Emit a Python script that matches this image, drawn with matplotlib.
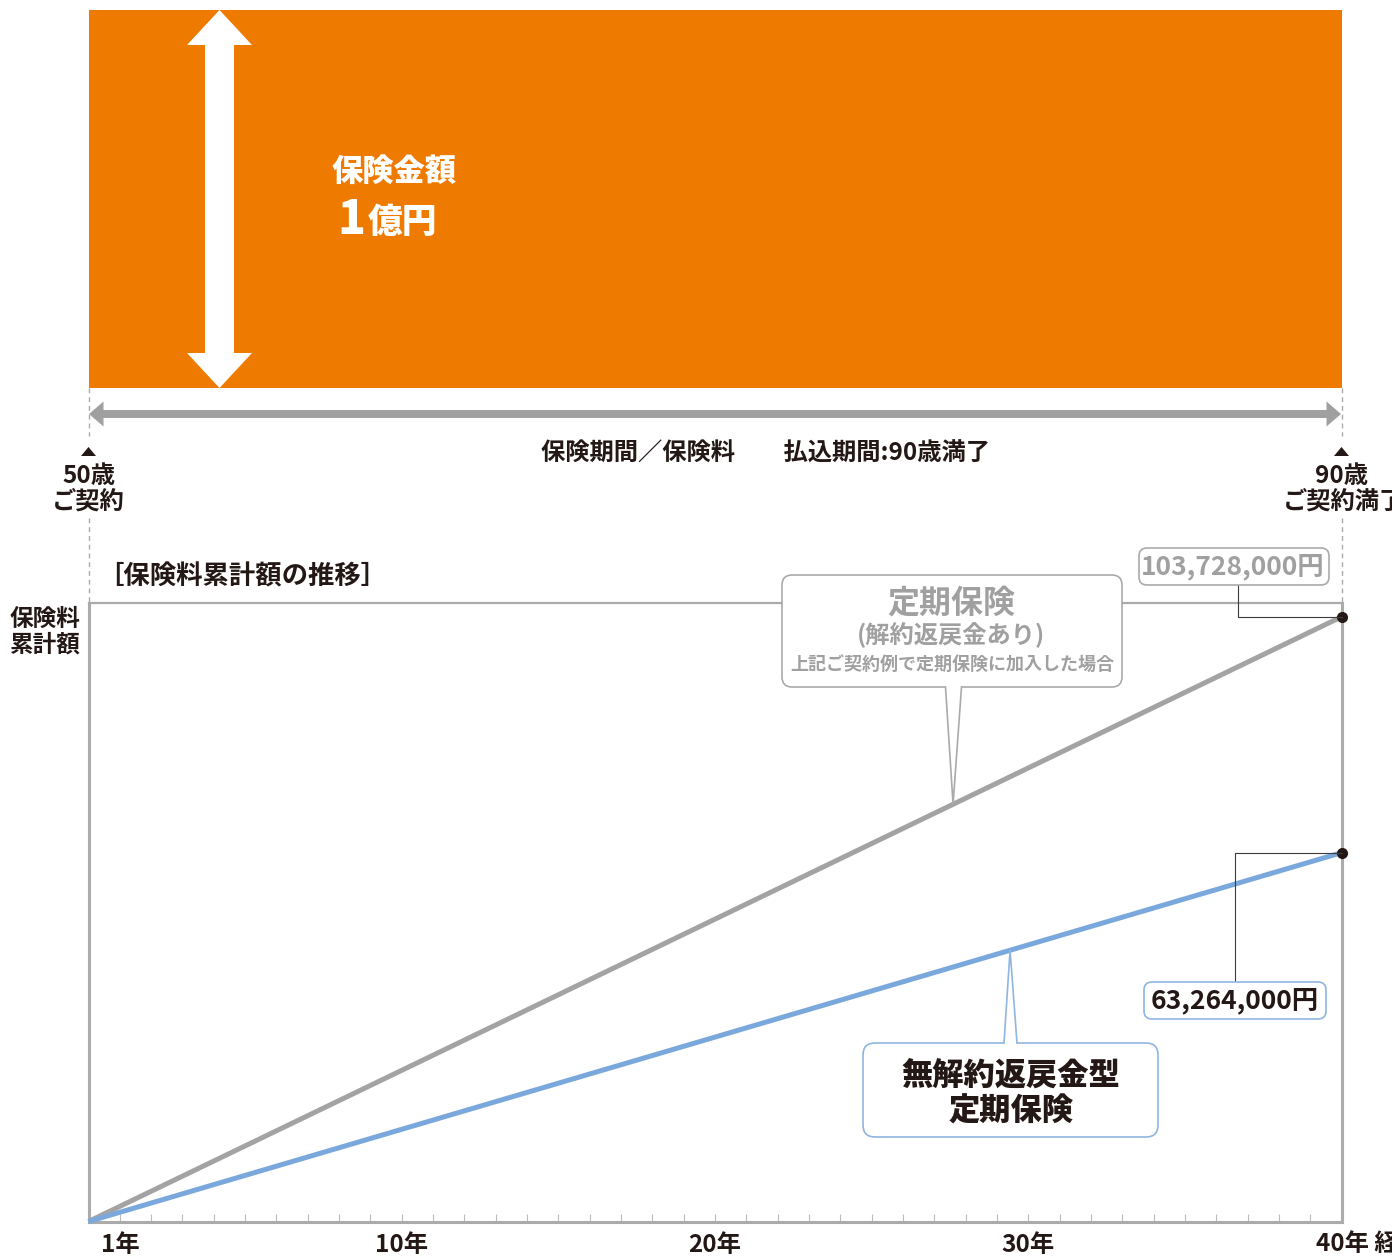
import numpy as np
import matplotlib
matplotlib.use('Agg')
import matplotlib.pyplot as plt
from matplotlib.patches import FancyBboxPatch, Polygon, Rectangle
from matplotlib.transforms import ScaledTranslation

plt.rcParams['font.family'] = ['Noto Sans CJK JP', 'DejaVu Sans']

# ---------------- data ----------------
years = [0, 40]
term_cum = [0, 103_728_000]       # 定期保険（解約返戻金あり）累計保険料
nolapse_cum = [0, 63_264_000]     # 無解約返戻金型定期保険 累計保険料
tick_years = [1, 10, 20, 30, 40]
tick_labels = ['1年', '10年', '20年', '30年', '40年 経過']
minor_years = list(range(1, 40))
y_top = 106_100_000
term_pointer_year = 27.6
nolapse_pointer_year = 29.42

# ---------------- colours ----------------
ORANGE = '#EF7A00'
GRAY = '#A3A3A3'
GRAY_TXT = '#A0A0A0'
BLUE = '#7BA8DC'
BLUE_EDGE = '#8FB5E0'
DARK = '#231815'
AXIS = '#ABABAB'

W, H = 1392, 1256
fig = plt.figure(figsize=(W / 100, H / 100), dpi=100)
fig.patch.set_facecolor('white')

# data axes (chart box)
L, R, T, B = 88.5, 1341.5, 603, 1221.5
ax = fig.add_axes([L / W, (H - B) / H, (R - L) / W, (B - T) / H])
ax.set_zorder(1)
ax.set_xlim(0, 40)
ax.set_ylim(0, y_top)
ax.plot(years, term_cum, color=GRAY, lw=3.6, solid_capstyle='butt', clip_on=False, zorder=3)
ax.plot(years, nolapse_cum, color=BLUE, lw=3.6, solid_capstyle='butt', clip_on=False, zorder=3)
ax.scatter([years[-1], years[-1]], [term_cum[-1], nolapse_cum[-1]], s=64, color=DARK,
           zorder=5, clip_on=False, linewidths=0)
for s in ['left', 'right', 'bottom']:
    ax.spines[s].set_linewidth(2.2)
    ax.spines[s].set_color(AXIS)
ax.spines['top'].set_linewidth(1.6)
ax.spines['top'].set_color(AXIS)
ax.set_yticks([])
ax.set_xticks(tick_years)
ax.set_xticklabels(tick_labels)
ax.set_xticks(minor_years, minor=True)
ax.tick_params(axis='x', which='both', direction='in', length=6, width=0.8,
               color='#BDBDBD', pad=8, labelsize=17.5, labelcolor=DARK)
for lbl in ax.get_xticklabels():
    lbl.set_fontweight('bold')
last = ax.get_xticklabels()[-1]
last.set_ha('left')
last.set_transform(last.get_transform() + ScaledTranslation(-0.26, 0, fig.dpi_scale_trans))

# decoration axes in pixel coordinates
deco = fig.add_axes([0, 0, 1, 1])
deco.set_xlim(0, W)
deco.set_ylim(H, 0)
deco.axis('off')
deco.patch.set_visible(False)
deco.set_zorder(2)


def d2p(x, y):
    disp = ax.transData.transform((x, y))
    return deco.transData.inverted().transform(disp)


def txt(x, y, s, size, color=DARK, ha='center', weight='bold', **kw):
    deco.text(x, y + 3, s, fontsize=size, color=color, fontweight=weight,
              ha=ha, va='center', **kw)


# ---- orange sum-insured block ----
deco.add_patch(Rectangle((L, 10), R - L, 378, fc=ORANGE, ec='none'))
cx = 219.5
arrow = [(cx, 10), (cx + 32.5, 45), (cx + 14.5, 45), (cx + 14.5, 353), (cx + 32.5, 353),
         (cx, 388), (cx - 32.5, 353), (cx - 14.5, 353), (cx - 14.5, 45), (cx - 32.5, 45)]
deco.add_patch(Polygon(arrow, closed=True, fc='white', ec='none'))
txt(394.5, 168, '保険金額', 22.5, color='white', weight=900)
txt(351, 217, '1', 33, color='white', weight=900)
txt(402, 219, '億円', 25, color='white', weight=900)

# ---- dashed guide lines ----
for x in (L, R):
    deco.plot([x, x], [388, 436], color='#AAAAAA', lw=1, dashes=(3.5, 2.8))
    deco.plot([x, x], [518, T], color='#AAAAAA', lw=1, dashes=(3.5, 2.8))
    deco.add_patch(Polygon([(x - 7.5, 456), (x, 447), (x + 7.5, 456)], closed=True,
                           fc=DARK, ec='none'))

# ---- gray period arrow ----
ay = 414
hl, hw, sw = 15, 12.5, 4
parrow = [(L + 0.5, ay), (L + hl, ay - hw), (L + hl, ay - sw), (R - hl, ay - sw), (R - hl, ay - hw),
          (R - 0.5, ay), (R - hl, ay + hw), (R - hl, ay + sw), (L + hl, ay + sw), (L + hl, ay + hw)]
deco.add_patch(Polygon(parrow, closed=True, fc='#A0A0A0', ec='none'))
txt(765.5, 451, '保険期間／保険料　　払込期間:90歳満了', 17.5)
txt(L, 473, '50歳', 17.5)
txt(L, 499, 'ご契約', 17.5)
txt(R, 473, '90歳', 17.5)
txt(R + 2, 499, 'ご契約満了', 17.5)

# ---- chart titles ----
txt(242, 574, '［保険料累計額の推移］', 19)
txt(45, 616, '保険料', 17)
txt(45, 642, '累計額', 17)

# ---- gray callout ----
deco.add_patch(FancyBboxPatch((782, 575), 340, 112, boxstyle='round,pad=0,rounding_size=10',
                              fc='white', ec='#AAAAAA', lw=1.2, zorder=3))
tip = d2p(term_pointer_year, np.interp(term_pointer_year, years, term_cum))
deco.add_patch(Polygon([(945.5, 684), tuple(tip), (961.5, 684)], closed=True, fc='white',
                       ec='none', zorder=4))
deco.plot([945.5, tip[0], 961.5], [687, tip[1], 687], color='#AAAAAA', lw=1.2, zorder=4)
txt(951.5, 600, '定期保険', 23, color=GRAY_TXT, zorder=5)
txt(951, 632, '(解約返戻金あり)', 17.5, color=GRAY_TXT, zorder=5)
txt(952, 661, '上記ご契約例で定期保険に加入した場合', 13, color=GRAY_TXT, zorder=5)

# ---- blue callout ----
deco.add_patch(FancyBboxPatch((863, 1043), 295, 94, boxstyle='round,pad=0,rounding_size=12',
                              fc='white', ec=BLUE_EDGE, lw=1.2, zorder=3))
tip2 = d2p(nolapse_pointer_year, np.interp(nolapse_pointer_year, years, nolapse_cum))
deco.add_patch(Polygon([(1004, 1046), tuple(tip2), (1017, 1046)], closed=True, fc='white',
                       ec='none', zorder=4))
deco.plot([1004, tip2[0], 1017], [1043, tip2[1], 1043], color=BLUE_EDGE, lw=1.2, zorder=4)
txt(1011, 1072, '無解約返戻金型', 22.5, weight=900, zorder=5)
txt(1011, 1108, '定期保険', 22.5, weight=900, zorder=5)

# ---- value labels ----
p1 = d2p(years[-1], term_cum[-1])
deco.plot([1238, 1238, p1[0]], [585, p1[1], p1[1]], color='#3E3A39', lw=0.8, zorder=3)
deco.add_patch(FancyBboxPatch((1139, 548), 190, 37, boxstyle='round,pad=0,rounding_size=8',
                              fc='white', ec='#AAAAAA', lw=1.2, zorder=3))
txt(1233, 564, f'{term_cum[-1]:,}円', 19, color=GRAY_TXT, zorder=5)

p2 = d2p(years[-1], nolapse_cum[-1])
deco.plot([p2[0], 1235, 1235], [p2[1], p2[1], 982], color='#3E3A39', lw=0.8, zorder=3)
deco.add_patch(FancyBboxPatch((1144, 982), 182, 37, boxstyle='round,pad=0,rounding_size=8',
                              fc='white', ec=BLUE_EDGE, lw=1.2, zorder=3))
txt(1235, 998, f'{nolapse_cum[-1]:,}円', 19, color=DARK, zorder=5)

fig.savefig('out.png', dpi=100)
